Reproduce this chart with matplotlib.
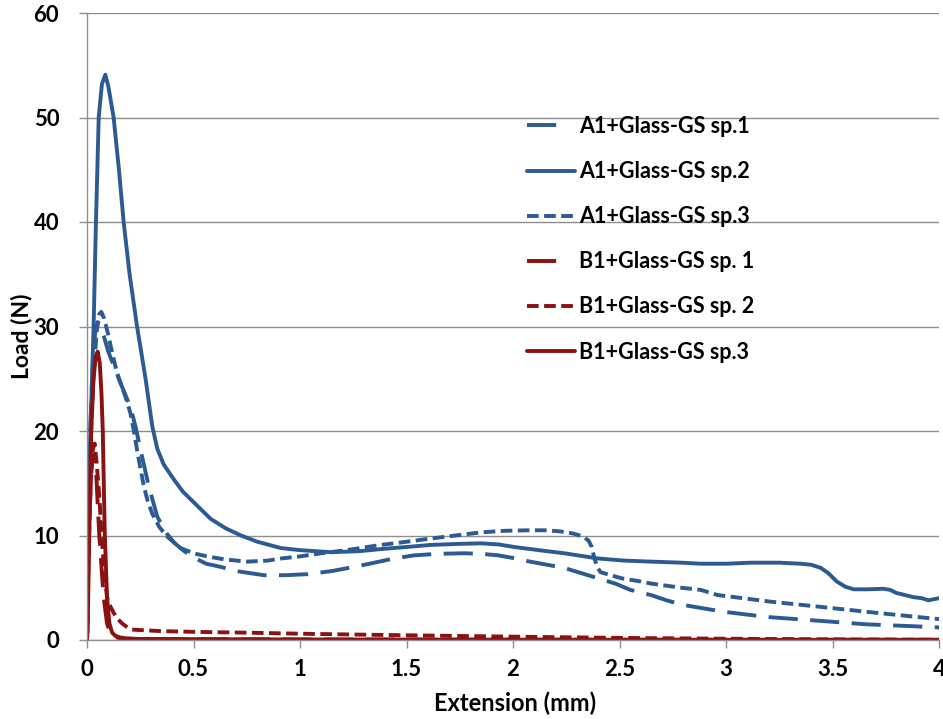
import matplotlib
matplotlib.use("Agg")
import matplotlib.pyplot as plt

# Load-extension curves (extension in mm, load in N)
a1_sp1_x = [0, 0.005, 0.015, 0.028, 0.04, 0.05, 0.06, 0.08, 0.10, 0.13, 0.165, 0.204, 0.228,
            0.259, 0.29, 0.33, 0.37, 0.41, 0.45, 0.50, 0.56, 0.627, 0.70, 0.83, 0.93, 1.036,
            1.15, 1.255, 1.35, 1.44, 1.536, 1.65, 1.77, 1.85, 1.93, 2.0, 2.08, 2.16, 2.24,
            2.32, 2.40, 2.48, 2.55, 2.648, 2.72, 2.80, 2.99, 3.195, 3.43, 3.66, 3.90, 4.0]
a1_sp1_y = [0, 10, 20, 27, 29.8, 30.4, 30.1, 29, 27.6, 26, 24.2, 22.3, 20.4,
            17.5, 14.7, 11.8, 10.3, 9.3, 8.6, 7.9, 7.3, 7.0, 6.6, 6.2, 6.2, 6.3,
            6.6, 7.0, 7.4, 7.8, 8.1, 8.25, 8.3, 8.25, 8.1, 7.85, 7.5, 7.2, 6.9,
            6.4, 5.9, 5.4, 4.8, 4.3, 3.8, 3.35, 2.7, 2.2, 1.85, 1.5, 1.3, 1.2]

a1_sp2_x = [0, 0.003, 0.016, 0.031, 0.042, 0.055, 0.07, 0.086, 0.10, 0.125, 0.15, 0.172,
            0.2, 0.235, 0.275, 0.306, 0.33, 0.36, 0.41, 0.45, 0.50, 0.58, 0.65, 0.723,
            0.80, 0.91, 1.0, 1.146, 1.28, 1.38, 1.5, 1.615, 1.75, 1.85, 1.93, 2.006,
            2.12, 2.24, 2.40, 2.52, 2.648, 2.79, 2.88, 3.0, 3.12, 3.25, 3.35, 3.40,
            3.445, 3.48, 3.52, 3.56, 3.60, 3.66, 3.74, 3.77, 3.80, 3.88, 3.92, 3.95, 4.0]
a1_sp2_y = [0, 10, 20, 30, 40, 50, 53.2, 54.1, 53, 50, 45, 40,
            35, 30, 25, 20.5, 18.3, 16.8, 15.3, 14.2, 13.2, 11.6, 10.7, 10.0,
            9.4, 8.8, 8.6, 8.4, 8.5, 8.7, 8.9, 9.1, 9.2, 9.25, 9.15, 8.9,
            8.6, 8.3, 7.8, 7.6, 7.5, 7.4, 7.3, 7.3, 7.4, 7.4, 7.3, 7.2,
            6.9, 6.4, 5.6, 5.1, 4.85, 4.85, 4.9, 4.8, 4.5, 4.1, 4.0, 3.8, 4.0]

a1_sp3_x = [0, 0.005, 0.015, 0.03, 0.045, 0.058, 0.067, 0.08, 0.10, 0.12, 0.142, 0.165,
            0.185, 0.204, 0.22, 0.235, 0.25, 0.267, 0.285, 0.306, 0.34, 0.376, 0.439,
            0.5, 0.564, 0.65, 0.754, 0.85, 0.91, 1.0, 1.10, 1.2, 1.285, 1.38, 1.5, 1.61,
            1.73, 1.85, 1.96, 2.08, 2.15, 2.22, 2.28, 2.33, 2.355, 2.37, 2.38, 2.395,
            2.41, 2.46, 2.51, 2.60, 2.648, 2.79, 2.88, 2.93, 2.96, 3.08, 3.195, 3.43,
            3.66, 3.90, 4.0]
a1_sp3_y = [0, 10, 18, 25, 29.5, 31.2, 31.4, 30.8, 29.2, 27.3, 25.5, 24.2,
            23, 21.7, 20.0, 18.2, 16.5, 14.7, 13.3, 12.1, 10.8, 9.9, 8.8,
            8.3, 8.0, 7.7, 7.5, 7.6, 7.8, 8.0, 8.3, 8.55, 8.8, 9.1, 9.4, 9.7,
            10.0, 10.3, 10.45, 10.5, 10.5, 10.4, 10.2, 9.9, 9.5, 8.9, 8.0, 7.0,
            6.5, 6.2, 5.9, 5.6, 5.4, 5.0, 4.8, 4.5, 4.3, 4.0, 3.7, 3.2,
            2.7, 2.2, 2.0]

b1_sp1_x = [0, 0.005, 0.012, 0.02, 0.028, 0.035, 0.042, 0.05, 0.058, 0.067, 0.078, 0.094,
            0.11, 0.13, 0.16, 0.25, 1.0, 2.0, 3.0, 4.0]
b1_sp1_y = [0, 6, 12, 16, 17.7, 17.8, 16.5, 13.1, 9.9, 7.3, 4.1, 1.6,
            0.6, 0.3, 0.15, 0.08, 0.05, 0.03, 0.02, 0.02]

b1_sp2_x = [0, 0.005, 0.012, 0.02, 0.028, 0.036, 0.045, 0.058, 0.067, 0.078, 0.094, 0.11,
            0.125, 0.145, 0.164, 0.19, 0.21, 0.25, 0.35, 0.5, 0.75, 1.0, 1.5, 2.0, 2.5,
            3.0, 3.5, 4.0]
b1_sp2_y = [0, 6, 12, 16.5, 18.3, 18.8, 17.0, 13.7, 10.5, 7.4, 4.1, 3.2,
            2.6, 2.0, 1.6, 1.2, 1.0, 0.95, 0.85, 0.78, 0.7, 0.6, 0.45, 0.32, 0.2,
            0.12, 0.06, 0.02]

b1_sp3_x = [0, 0.003, 0.011, 0.02, 0.03, 0.04, 0.05, 0.06, 0.068, 0.074, 0.083, 0.094,
            0.105, 0.118, 0.133, 0.155, 0.18, 0.25, 1.0, 2.0, 3.0, 4.0]
b1_sp3_y = [0, 1, 10.5, 20.1, 24.8, 27.0, 27.6, 26.5, 23.5, 20.1, 10.5, 4.1,
            1.6, 0.7, 0.4, 0.25, 0.15, 0.1, 0.05, 0.03, 0.02, 0.02]

series_labels = ["A1+Glass-GS sp.1", "A1+Glass-GS sp.2", "A1+Glass-GS sp.3",
                 "B1+Glass-GS sp. 1", "B1+Glass-GS sp. 2", "B1+Glass-GS sp.3"]

x_ticks = [0, 0.5, 1, 1.5, 2, 2.5, 3, 3.5, 4]
x_tick_labels = ["0", "0.5", "1", "1.5", "2", "2.5", "3", "3.5", "4"]
y_ticks = [0, 10, 20, 30, 40, 50, 60]

BLUE = "#2C5A92"
RED = "#8C1111"
GRID = "#8E8E8E"
LONG = (0, (7.5, 3.2))
SHORT = (0, (3.0, 1.4))

fig = plt.figure(figsize=(9.43, 7.19), dpi=100)
ax = fig.add_axes([87 / 943, 1 - 640 / 719, (939 - 87) / 943, (640 - 13) / 719])

lw = 2.8
series = [
    (a1_sp1_x, a1_sp1_y, BLUE, LONG),
    (a1_sp2_x, a1_sp2_y, BLUE, "-"),
    (a1_sp3_x, a1_sp3_y, BLUE, SHORT),
    (b1_sp1_x, b1_sp1_y, RED, LONG),
    (b1_sp2_x, b1_sp2_y, RED, SHORT),
    (b1_sp3_x, b1_sp3_y, RED, "-"),
]
for (xs, ys, col, ls), lab in zip(series, series_labels):
    ax.plot(xs, ys, color=col, linestyle=ls, linewidth=lw, label=lab,
            solid_joinstyle="round", solid_capstyle="round")

ax.set_xlim(0, 4)
ax.set_ylim(0, 60)
ax.set_xticks(x_ticks)
ax.set_xticklabels(x_tick_labels)
ax.set_yticks(y_ticks)

ax.grid(axis="y", color=GRID, linewidth=1.0)
ax.set_axisbelow(True)
for side in ("top", "right"):
    ax.spines[side].set_visible(False)
for side in ("left", "bottom"):
    ax.spines[side].set_color(GRID)
    ax.spines[side].set_linewidth(1.0)

ax.tick_params(axis="x", direction="out", length=6, width=1.0, color=GRID, pad=8)
ax.tick_params(axis="y", direction="out", length=6, width=1.0, color=GRID, pad=14)

for t in ax.get_xticklabels() + ax.get_yticklabels():
    t.set_fontfamily("Lato")
    t.set_fontweight("bold")
    t.set_fontsize(16)

fig.text(515 / 943, 1 - 703 / 719, "Extension (mm)", ha="center", va="center",
         fontsize=17, fontweight="bold", family="Lato")
fig.text(22 / 943, 1 - 336 / 719, "Load (N)", ha="center", va="center", rotation=90,
         fontsize=16.5, fontweight="bold", family="Lato")

leg = ax.legend(loc="upper left", bbox_to_anchor=(527 / 943, 1 - 116 / 719),
                bbox_transform=fig.transFigure, frameon=False, borderpad=0,
                borderaxespad=0, handlelength=2.25, handletextpad=0.15,
                labelspacing=1.12, prop={"family": "Lato", "weight": "bold", "size": 15.5})

# long-dash legend samples show a single dash followed by a gap
for handle, (_, _, _, ls) in zip(leg.get_lines(), series):
    if ls == LONG:
        handle.set_dashes((7.5, 12.0))

fig.savefig("out.png", dpi=100)
